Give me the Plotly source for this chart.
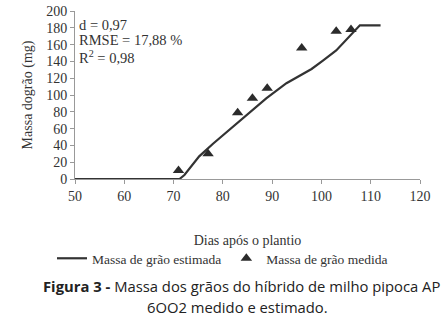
import plotly.graph_objects as go

est_days = [50, 71.2, 72.2, 75.2, 78, 80, 82.7, 86.1, 88.8, 92.9, 98, 100.3, 103, 107.8, 112]
est_mass = [0, 0, 4.7, 27, 42, 52, 66, 82, 96, 114, 131, 141, 153, 183, 183]
med_days = [71, 77, 83, 86, 89, 96, 103, 106]
med_mass = [10, 30, 79, 96, 108, 156, 176, 178]
x_ticks = [50, 60, 70, 80, 90, 100, 110, 120]
y_ticks = [0, 20, 40, 60, 80, 100, 120, 140, 160, 180, 200]
stats = ["d = 0,97", "RMSE = 17,88 %", "R<sup>2</sup> = 0,98"]

serif = "Liberation Serif, Times New Roman, serif"
txt = "#333333"
L, R, T, B = 75, 26, 11, 149
PW, PH = 446 - L - R, 328 - T - B

fig = go.Figure()
fig.add_trace(go.Scatter(x=est_days, y=est_mass, mode="lines",
                         line=dict(color="#333333", width=2.2),
                         name="Massa de grão estimada"))
fig.add_trace(go.Scatter(x=med_days, y=med_mass, mode="markers",
                         marker=dict(symbol="triangle-up", size=10, color="#2b2b2b"),
                         name="Massa de grão medida"))

fig.update_layout(
    width=446, height=328,
    margin=dict(l=L, r=R, t=T, b=B, autoexpand=False),
    paper_bgcolor="white", plot_bgcolor="white",
    font=dict(family=serif, size=14, color=txt),
    showlegend=True,
    legend=dict(orientation="h", x=(52 - L) / PW, xanchor="left", y=(179 - 243) / PH, yanchor="top",
                font=dict(family=serif, size=13.5, color=txt),
                itemwidth=30, tracegroupgap=0, bgcolor="rgba(0,0,0,0)"),
    xaxis=dict(range=[50, 120], tickvals=x_ticks, showgrid=False, zeroline=False,
               showline=True, linecolor="#999999", linewidth=1,
               ticks="outside", ticklen=4, tickcolor="#999999",
               tickfont=dict(family=serif, size=14, color=txt),
               title=dict(text="Dias após o plantio", standoff=32,
                          font=dict(family=serif, size=14, color=txt))),
    yaxis=dict(range=[0, 200], tickvals=y_ticks, showgrid=False, zeroline=False,
               showline=True, linecolor="#999999", linewidth=1,
               ticks="outside", ticklen=4, tickcolor="#999999",
               tickfont=dict(family=serif, size=14, color=txt),
               title=dict(text="Massa dogrão (mg)", standoff=10,
                          font=dict(family=serif, size=14, color=txt))),
)

for i, s in enumerate(stats):
    fig.add_annotation(x=0.005, y=1.0 - 4 / PH - i * 0.092, xref="paper", yref="paper",
                       text=s, showarrow=False, xanchor="left", yanchor="top",
                       font=dict(family=serif, size=14.5, color=txt))

sans = "Open Sans, Noto Sans, sans-serif"
fig.add_annotation(xref="paper", yref="paper", x=(41 - L) / PW, y=(179 - 286) / PH,
                   xanchor="left", yanchor="middle", showarrow=False,
                   text="<b>Figura 3 -</b> Massa dos grãos do híbrido de milho pipoca AP",
                   font=dict(family=sans, size=14.8, color="#222222"))
fig.add_annotation(xref="paper", yref="paper", x=(145 - L) / PW, y=(179 - 307) / PH,
                   xanchor="left", yanchor="middle", showarrow=False,
                   text="6OO2 medido e estimado.",
                   font=dict(family=sans, size=14.8, color="#222222"))

fig.write_html("out.html", config={"displayModeBar": False},
               post_script="document.body.style.margin='0';document.body.style.overflow='hidden';")
